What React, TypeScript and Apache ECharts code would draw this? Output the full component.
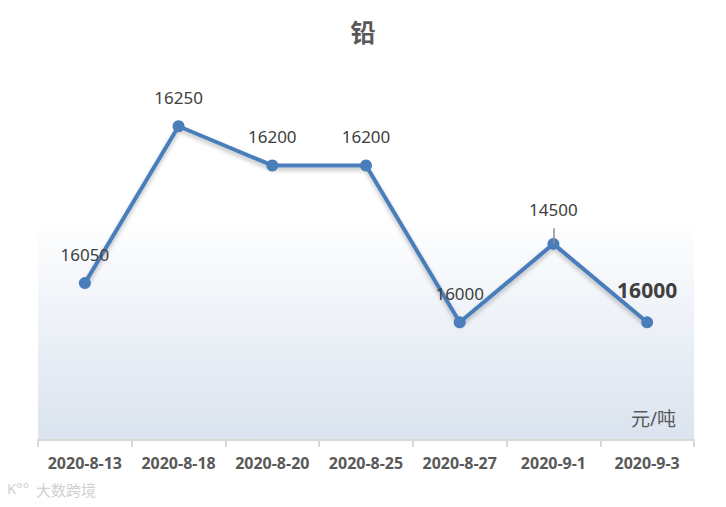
import React, { useEffect, useRef } from "react";
import * as echarts from "echarts";

const categories = ["2020-8-13", "2020-8-18", "2020-8-20", "2020-8-25", "2020-8-27", "2020-9-1", "2020-9-3"];
// plotted values (position in chart)
const values = [16050, 16250, 16200, 16200, 16000, 16100, 16000];
// label texts as printed in the reference
const labelTexts = ["16050", "16250", "16200", "16200", "16000", "14500", "16000"];
const titleText = "铅";
const unitText = "元/吨";
const watermarkText = "大数跨境";

const FONT = "'Noto Sans', 'Noto Sans CJK SC', sans-serif";

export default function App() {
  const ref = useRef<HTMLDivElement>(null);
  useEffect(() => {
    if (!ref.current) return;
    const chart = echarts.init(ref.current, null, { renderer: "svg" });
    const data = values.map((v, i) => {
      const item: any = { value: v };
      if (i === values.length - 1) {
        item.label = { fontSize: 21, fontWeight: "bold", color: "#404040", distance: 16 };
      }
      if (i === 5) {
        item.label = { distance: 20 };
      }
      return item;
    });
    chart.setOption({
      animation: false,
      backgroundColor: "#ffffff",
      title: {
        text: titleText,
        left: "center",
        top: 14,
        textStyle: { fontSize: 25, color: "#595959", fontWeight: "bold", fontFamily: FONT },
      },
      grid: {
        left: 38,
        right: 32,
        top: 87,
        bottom: 67,
        show: true,
        borderWidth: 0,
        backgroundColor: new echarts.graphic.LinearGradient(0, 0, 0, 1, [
          { offset: 0, color: "rgba(255,255,255,1)" },
          { offset: 0.37, color: "rgba(255,255,255,1)" },
          { offset: 1, color: "#dae3ef" },
        ]),
      },
      xAxis: {
        type: "category",
        data: categories,
        boundaryGap: true,
        axisLine: { lineStyle: { color: "#d9d9d9", width: 2 } },
        axisTick: { show: true, interval: 0, length: 7, lineStyle: { color: "#d9d9d9", width: 2 } },
        axisLabel: {
          interval: 0,
          hideOverlap: false,
          color: "#595959",
          fontSize: 16,
          fontWeight: "bold",
          fontFamily: FONT,
          margin: 15,
        },
      },
      yAxis: {
        type: "value",
        min: 15850,
        max: 16300,
        show: false,
        splitLine: { show: false },
      },
      series: [
        {
          type: "line",
          data,
          symbol: "circle",
          symbolSize: 12,
          lineStyle: {
            color: "#4a7ebb",
            width: 4,
            shadowColor: "rgba(0,0,0,0.25)",
            shadowBlur: 4,
            shadowOffsetY: 3,
          },
          itemStyle: { color: "#4a7ebb" },
          label: {
            show: true,
            position: "top",
            distance: 14,
            fontSize: 17,
            color: "#404040",
            fontFamily: FONT,
            formatter: (p: any) => labelTexts[p.dataIndex],
          },
        },
        {
          type: "line",
          data: values.map((v, i) => (i === 5 ? v : null)),
          symbol: "none",
          lineStyle: { width: 0 },
          silent: true,
          markLine: {
            symbol: "none",
            silent: true,
            label: { show: false },
            lineStyle: { color: "#8c8c8c", width: 1.5, type: "solid" },
            data: [
              [
                { coord: [categories[5], values[5]] },
                { coord: [categories[5], values[5] + 20] },
              ],
            ],
          },
        },
      ],
      graphic: [
        {
          type: "text",
          right: 50,
          top: 409,
          style: { text: unitText, fontSize: 19, fill: "#595959", fontFamily: FONT },
        },
        {
          type: "text",
          left: 36,
          top: 482,
          style: { text: watermarkText, fontSize: 15, fill: "#d0d0d0", fontFamily: FONT },
        },
        {
          type: "text",
          left: 7,
          top: 480,
          style: { text: "K°°", fontSize: 15, fill: "#d0d0d0", fontFamily: FONT },
        },
      ],
    });
    return () => chart.dispose();
  }, []);
  return <div ref={ref} style={{ position: "fixed", left: 0, top: 0, width: 726, height: 507 }} />;
}
